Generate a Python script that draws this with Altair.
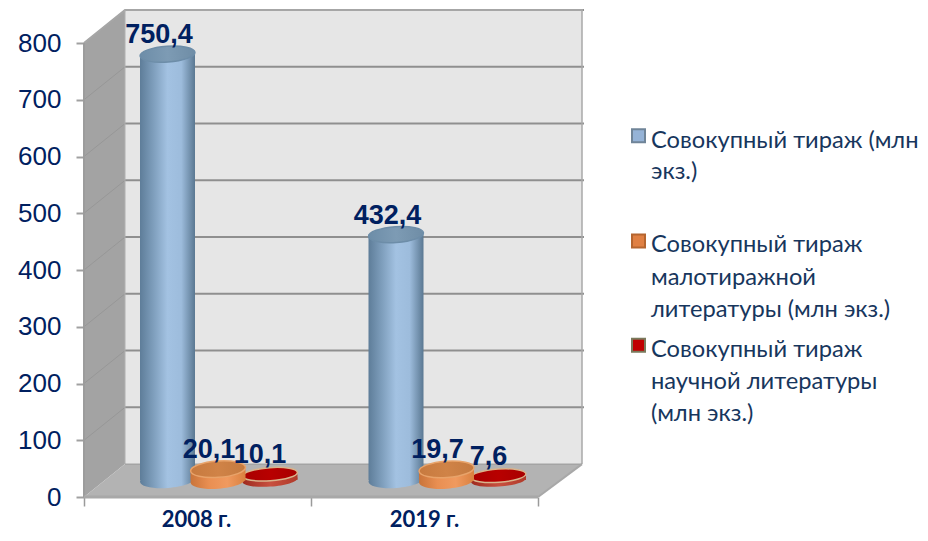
import altair as alt
import pandas as pd

# ---- values ----
YEARS = ["2008 г.", "2019 г."]
SERIES = ["Совокупный тираж (млн экз.)",
          "Совокупный тираж малотиражной литературы (млн экз.)",
          "Совокупный тираж научной литературы (млн экз.)"]
TOTAL = [750.4, 432.4]
SMALL = [20.1, 19.7]
SCIENCE = [10.1, 7.6]
LABELS_TOTAL = ["750,4", "432,4"]
LABELS_SMALL = ["20,1", "19,7"]
LABELS_SCIENCE = ["10,1", "7,6"]
TICKS = [0, 100, 200, 300, 400, 500, 600, 700, 800]
LEGEND_LINES = [["Совокупный тираж (млн", "экз.)"],
                ["Совокупный тираж", "малотиражной", "литературы (млн экз.)"],
                ["Совокупный тираж", "научной литературы", "(млн экз.)"]]

# ---- layout constants ----
NAVY = "#002060"
LEGEND_NAVY = "#17365d"
BACK = 58        # depth of the 3D box in value units
BASE = [30, 29, 30]  # cylinders stand mid-way on the floor
XL, XR = 84, 538
BXL, BXR = 125, 582
YMAX = 861.7
PLOT_W, PLOT_H = 836, 489
HALF = 27.5
GROUP_X = [218, 446.5]
SER_DX = [-50.5, 0, 52]
LBL_DX = [-59, -9, 42]
ELLIPSES = ["M-1,0 A1,0.29 0 1,1 1,0 A1,0.29 0 1,1 -1,0 Z",
            "M-1,0 A1,0.3 0 1,1 1,0 A1,0.3 0 1,1 -1,0 Z",
            "M-1,0 A1,0.24 0 1,1 1,0 A1,0.24 0 1,1 -1,0 Z"]

xs = alt.Scale(domain=[XL, XL + PLOT_W], nice=False, zero=False)
ys = alt.Scale(domain=[0, YMAX], nice=False, zero=False)


def X(f="x"):
    return alt.X(f, type="quantitative", scale=xs, axis=None, title=None)


def Y(f="y"):
    return alt.Y(f, type="quantitative", scale=ys, axis=None, title=None)


def grad(stops):
    n = len(stops) - 1
    return alt.LinearGradient(gradient="linear", x1=0, x2=1, y1=0, y2=0,
                              stops=[alt.GradientStop(offset=i / n, color=c) for i, c in enumerate(stops)])


# side wall
side = alt.Chart(pd.DataFrame({"x": [XL, BXL], "y": [0, BACK], "y2": [800, 800 + BACK]})).mark_area(
    orient="vertical", fill="#a3a3a3").encode(x=X(), y=Y(), y2="y2:Q")
# back wall
back = alt.Chart(pd.DataFrame({"x": [BXL], "x2": [BXR], "y": [BACK], "y2": [800 + BACK]})).mark_rect(
    fill="#e6e6e6").encode(x=X(), x2="x2:Q", y=Y(), y2="y2:Q")
# floor
floor = alt.Chart(pd.DataFrame({"y": [0, BACK], "x": [XL, BXL], "x2": [XR, BXR]})).mark_area(
    orient="horizontal", fill="#b3b3b3").encode(y=Y(), x=X(), x2="x2:Q")
floor_edge = alt.Chart(pd.DataFrame({"x": [XL], "x2": [XR], "y": [0]})).mark_rule(
    color="#a8a8a8", strokeWidth=3).encode(x=X(), x2="x2:Q", y=Y())
floor_side = alt.Chart(pd.DataFrame({"x": [XR, BXR], "y": [0, BACK]})).mark_line(
    color="#a8a8a8", strokeWidth=2).encode(x=X(), y=Y())

# gridlines on the back wall and their diagonals on the side wall
grid_df = pd.DataFrame({"v": TICKS[1:]})
grid_df["y"] = grid_df["v"] + BACK
grid_df["x"] = BXL
grid_df["x2"] = BXR + 2
grid = alt.Chart(grid_df).mark_rule(color="#8f8f8f", strokeWidth=2).encode(x=X(), x2="x2:Q", y=Y())
floor_back = alt.Chart(pd.DataFrame({"x": [BXL], "x2": [BXR], "y": [BACK]})).mark_rule(
    color="#9a9a9a", strokeWidth=1).encode(x=X(), x2="x2:Q", y=Y())
right_edge = alt.Chart(pd.DataFrame({"x": [BXR], "y": [BACK], "y2": [800 + BACK]})).mark_rule(
    color="#a8a8a8", strokeWidth=1.5).encode(x=X(), y=Y(), y2="y2:Q")
diag_rows = []
for t in TICKS[1:]:
    diag_rows += [{"t": t, "x": XL, "y": t}, {"t": t, "x": BXL, "y": t + BACK}]
diag = alt.Chart(pd.DataFrame(diag_rows)).mark_line(color="#979797", strokeWidth=1).encode(
    x=X(), y=Y(), detail="t:N")
top_rows = [{"x": XL, "y": 800}, {"x": BXL, "y": 800 + BACK}, {"x": BXR + 1, "y": 800 + BACK}]
top_edge = alt.Chart(pd.DataFrame(top_rows)).mark_line(color="#a6a6a6", strokeWidth=2).encode(x=X(), y=Y())
wall_edge = alt.Chart(pd.DataFrame({"x": [XL], "y": [0], "y2": [800]})).mark_rule(
    color="#9c9c9c", strokeWidth=2).encode(x=X(), y=Y(), y2="y2:Q")
back_left = alt.Chart(pd.DataFrame({"x": [BXL], "y": [BACK], "y2": [800 + BACK]})).mark_rule(
    color="#b0b0b0", strokeWidth=1).encode(x=X(), y=Y(), y2="y2:Q")

# real axes
y_axis = alt.Chart(pd.DataFrame({"x": [XL], "y": [0]})).mark_point(opacity=0).encode(
    x=X(),
    y=alt.Y("y:Q", scale=ys, title=None, axis=alt.Axis(
        values=TICKS, domain=False, grid=False, tickSize=8, tickWidth=2, tickColor="#a0a0a0",
        labelFont="Liberation Sans", labelFontSize=26, labelColor=NAVY, labelPadding=15,
        labelOverlap=False, format="d")))
x_axis = alt.Chart(pd.DataFrame({"x": [XL], "y": [0]})).mark_point(opacity=0).encode(
    y=Y(),
    x=alt.X("x:Q", scale=xs, title=None, axis=alt.Axis(
        values=[XL, (XL + XR) / 2, XR], domain=False, grid=False, labels=False,
        tickSize=9, tickWidth=1.5, tickColor="#9a9a9a")))

# cylinders
STYLE = {
    0: dict(body=["#5e7d99", "#7f9fbd", "#a3c2e2", "#9dbcdc", "#5a7892"],
            cap=["#6d8da8", "#7d9bb4", "#6f8da6"], capstroke="#6d8da8"),
    1: dict(body=["#c9743a", "#e98f52", "#f09a5f", "#d9803f"],
            cap=["#c77a3f", "#d08347", "#c47a40"], capstroke="#e8a36a"),
    2: dict(body=["#9e2a1f", "#c8503f", "#b03a2a"],
            cap=["#a80000", "#b80000", "#a80000"], capstroke="#d9b48c"),
}
VALUES = [TOTAL, SMALL, SCIENCE]
LABEL_TEXT = [LABELS_TOTAL, LABELS_SMALL, LABELS_SCIENCE]
cyls = []
for s in [0, 2, 1]:
    df = pd.DataFrame({"g": YEARS, "v": VALUES[s]})
    df["xc"] = [g + SER_DX[s] for g in GROUP_X]
    df["x"] = df["xc"] - HALF
    df["x2"] = df["xc"] + HALF
    df["y"] = BASE[s]
    df["y2"] = df["v"] + BASE[s]
    st = STYLE[s]
    size = (2 * HALF) ** 2
    cyls.append(alt.Chart(df).mark_point(shape=ELLIPSES[s], size=size, filled=True, opacity=1,
                                         fill=grad(st["body"]), strokeWidth=0, angle=356)
                .encode(x=X("xc"), y=Y("y")))
    cyls.append(alt.Chart(df).mark_bar(fill=grad(st["body"]), strokeWidth=0, opacity=1)
                .encode(x=X("x"), x2="x2:Q", y=Y("y"), y2="y2:Q"))
    cyls.append(alt.Chart(df).mark_point(shape=ELLIPSES[s], size=size, filled=True, opacity=1,
                                         fill=grad(st["cap"]), stroke=st["capstroke"],
                                         strokeWidth=1.5, angle=356)
                .encode(x=X("xc"), y=Y("y2")))

# data labels
lab_rows = []
for s in range(3):
    for g in range(2):
        lab_rows.append({"x": GROUP_X[g] + LBL_DX[s], "y": VALUES[s][g] + 30, "t": LABEL_TEXT[s][g]})
labels = alt.Chart(pd.DataFrame(lab_rows)).mark_text(
    font="Liberation Sans", fontSize=27, fontWeight="bold", color=NAVY, dy=-19, baseline="middle"
).encode(x=X(), y=Y(), text="t:N")

# category labels
cat = alt.Chart(pd.DataFrame({"x": [196.5, 424.5], "y": [0, 0], "t": YEARS})).mark_text(
    font="Lato", fontSize=22, fontWeight="bold", color=NAVY, dy=23, baseline="middle"
).encode(x=X(), y=Y(), text="t:N")

# legend drawn as marks so that wrapped text sits beside its swatch
PX = 0.5663  # px per value unit
def py2v(py):
    return (497 - py) / PX
LEG_X = 651
SW_X = 638.5
SW_PY = [136.5, 241.5, 345.5]
LINE_PY = [[142, 173], [246, 278, 310], [350, 382, 414]]
SW_FILL = ["#95b3d7", "#e08043", "#c00000"]
SW_STROKE = ["#6f8498", "#b5652f", "#7a7a5c"]
sw_df = pd.DataFrame({"x": [SW_X] * 3, "y": [py2v(p) for p in SW_PY], "s": SERIES, "f": SW_FILL, "k": SW_STROKE})
swatch = alt.Chart(sw_df).mark_square(size=169, opacity=1, strokeWidth=2).encode(
    x=X(), y=Y(), fill=alt.Fill("f:N", scale=None), stroke=alt.Stroke("k:N", scale=None))
lines = []
for ls, ps in zip(LEGEND_LINES, LINE_PY):
    for l, p in zip(ls, ps):
        lines.append({"x": LEG_X, "y": py2v(p), "t": l})
leg_text = alt.Chart(pd.DataFrame(lines)).mark_text(
    font="Lato", fontSize=23.7, color=LEGEND_NAVY, align="left", baseline="middle"
).encode(x=X(), y=Y(), text="t:N")

chart = alt.layer(
    side, back, floor, grid, diag, top_edge, wall_edge, back_left, right_edge, floor_back, floor_side,
    floor_edge, y_axis, x_axis, *cyls, labels, cat, swatch, leg_text
).resolve_axis(x="independent", y="independent").properties(
    width=PLOT_W, height=PLOT_H,
    padding={"left": 76, "top": 0, "right": 0, "bottom": 36},
    autosize=alt.AutoSizeParams(type="none"),
    background="white",
).configure_view(stroke=None)

chart.save("out.html", embed_options={"renderer": "svg", "actions": False})
